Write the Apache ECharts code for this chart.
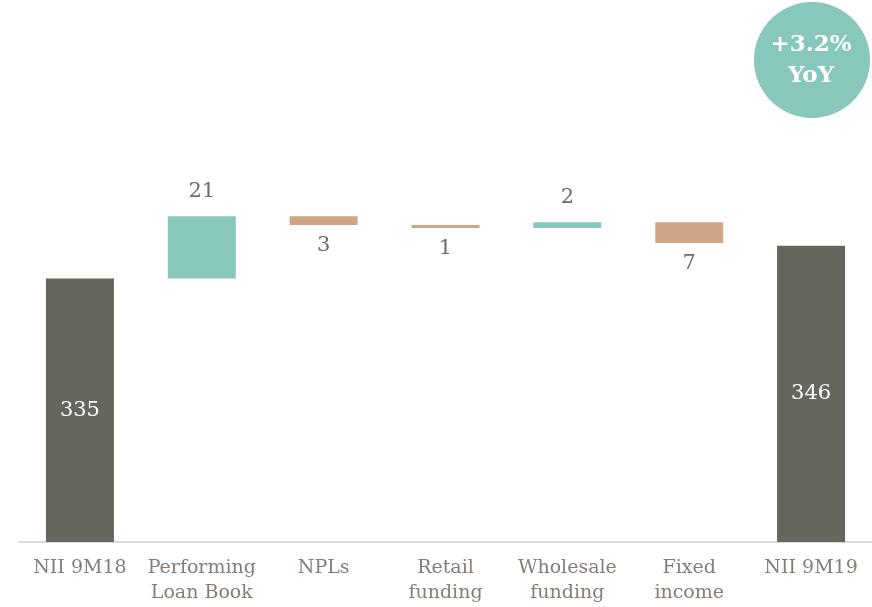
<!DOCTYPE html>
<html>
<head>
<meta charset="utf-8">
<script src="https://cdn.jsdelivr.net/npm/echarts@6/dist/echarts.min.js"></script>
<style>
  html, body { margin: 0; padding: 0; background: #fff; }
  #chart { width: 872px; height: 607px; }
</style>
</head>
<body>
<div id="chart"></div>
<script>
// categories and values (EUR m)
const categories = ['NII 9M18', 'Performing\nLoan Book', 'NPLs', 'Retail\nfunding', 'Wholesale\nfunding', 'Fixed\nincome', 'NII 9M19']
const startValue = 335
const deltas = [21, -3, -1, 2, -7]   // steps between start and end
const endValue = 346
const yoyText = '+3.2%\nYoY'

// build waterfall stacks
const baseData = ['-']
const upData = ['-']
const downData = ['-']
let running = startValue
deltas.forEach(d => {
  if (d >= 0) {
    baseData.push(running)
    upData.push(d)
    downData.push('-')
  } else {
    baseData.push(running + d)
    upData.push('-')
    downData.push(-d)
  }
  running += d
})
baseData.push('-'); upData.push('-'); downData.push('-')
const totalData = [startValue].concat(deltas.map(() => '-'), [endValue])

const FONT = 'DejaVu Serif'

const chart = echarts.init(document.getElementById('chart'))
chart.setOption({
  animation: false,
  grid: {
    left: 19,
    width: 854,
    top: 80,
    bottom: 65
  },
  xAxis: {
    type: 'category',
    data: categories,
    axisTick: { show: false },
    axisLine: { lineStyle: { color: '#d9d9d9', width: 2 } },
    axisLabel: {
      interval: 0,
      margin: 14,
      color: '#877c76',
      fontFamily: FONT,
      fontSize: 19,
      lineHeight: 25
    }
  },
  yAxis: {
    type: 'value',
    min: 246,
    max: 402,
    show: false,
    splitLine: { show: false }
  },
  series: [
    {
      name: 'base',
      type: 'bar',
      stack: 'w',
      barWidth: 68,
      silent: true,
      itemStyle: { color: 'transparent' },
      data: baseData
    },
    {
      name: 'increase',
      type: 'bar',
      stack: 'w',
      barWidth: 68,
      itemStyle: { color: '#88c8bc' },
      label: {
        show: true,
        position: 'top',
        distance: 14,
        color: '#6b6b6b',
        fontFamily: FONT,
        fontSize: 21
      },
      data: upData
    },
    {
      name: 'decrease',
      type: 'bar',
      stack: 'w',
      barWidth: 68,
      itemStyle: { color: '#cfa586' },
      label: {
        show: true,
        position: 'bottom',
        distance: 10,
        color: '#6b6b6b',
        fontFamily: FONT,
        fontSize: 21
      },
      data: downData
    },
    {
      name: 'total',
      type: 'bar',
      stack: 'w',
      barWidth: 68,
      itemStyle: { color: '#66665c' },
      label: {
        show: true,
        position: 'inside',
        color: '#ffffff',
        fontFamily: FONT,
        fontSize: 21
      },
      data: totalData
    }
  ],
  graphic: [
    {
      type: 'circle',
      shape: { cx: 812, cy: 60, r: 58 },
      style: { fill: '#88c8bc' }
    },
    {
      type: 'text',
      x: 811,
      y: 61,
      style: {
        text: yoyText,
        fill: '#ffffff',
        font: 'bold 23px "DejaVu Serif"',
        lineHeight: 31,
        align: 'center',
        verticalAlign: 'middle'
      }
    }
  ]
})
</script>
</body>
</html>
